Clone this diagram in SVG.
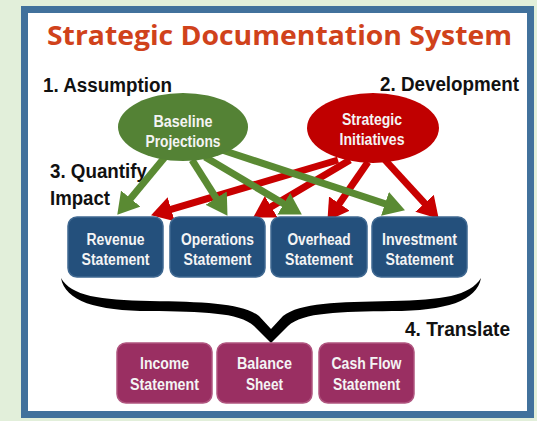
<svg xmlns="http://www.w3.org/2000/svg" width="537" height="421" viewBox="0 0 537 421">
<defs>
<style>
.lbl{font-family:"Liberation Sans",Arial,sans-serif;font-weight:bold;font-size:20px;fill:#111}
.bx{font-family:"Liberation Sans",Arial,sans-serif;font-weight:bold;font-size:16px;fill:#f4f4f4;text-anchor:middle}
.blue rect{fill:#24507c;stroke:#3f6891;stroke-width:1.5}
.purple rect{fill:#9a2f62;stroke:#b0557f;stroke-width:1.5}
.g{stroke:#5a8a33;stroke-width:7;fill:none}
.r{stroke:#c80000;stroke-width:7;fill:none}
</style>
<marker id="hg" viewBox="0 0 21 25" markerWidth="21" markerHeight="25" refX="2" refY="12.5" orient="auto" markerUnits="userSpaceOnUse"><path d="M0,0 L21,12.5 L0,25 Z" fill="#5a8a33"/></marker>
<marker id="hr" viewBox="0 0 21 25" markerWidth="21" markerHeight="25" refX="2" refY="12.5" orient="auto" markerUnits="userSpaceOnUse"><path d="M0,0 L21,12.5 L0,25 Z" fill="#c80000"/></marker>
</defs>
<rect x="0" y="0" width="537" height="421" fill="#e2efda"/>
<rect x="24.5" y="9.5" width="506" height="405" fill="#ffffff" stroke="#41719c" stroke-width="7"/>
<text x="47" y="45" font-family="'Open Sans','Noto Sans',sans-serif" font-weight="bold" font-size="26" fill="#d0421b" textLength="465" lengthAdjust="spacingAndGlyphs">Strategic Documentation System</text>
<text class="lbl" x="43" y="92" textLength="129" lengthAdjust="spacingAndGlyphs">1. Assumption</text>
<text class="lbl" x="380" y="91" textLength="139" lengthAdjust="spacingAndGlyphs">2. Development</text>
<text class="lbl" x="50" y="178" textLength="97" lengthAdjust="spacingAndGlyphs">3. Quantify</text>
<text class="lbl" x="50" y="205" textLength="60" lengthAdjust="spacingAndGlyphs">Impact</text>
<text class="lbl" x="405" y="336" textLength="105" lengthAdjust="spacingAndGlyphs">4. Translate</text>
<g id="connectors">
<line class="r" x1="338" y1="160" x2="169.3" y2="209.9" marker-end="url(#hr)"/>
<line class="r" x1="350" y1="160" x2="269.5" y2="207.8" marker-end="url(#hr)"/>
<line class="r" x1="368" y1="162" x2="338.2" y2="205.2" marker-end="url(#hr)"/>
<line class="r" x1="385" y1="160" x2="425.9" y2="204.7" marker-end="url(#hr)"/>
<line class="g" x1="165" y1="157" x2="129.4" y2="200.1" marker-end="url(#hg)"/>
<line class="g" x1="192" y1="160" x2="217.3" y2="199.8" marker-end="url(#hg)"/>
<line class="g" x1="205" y1="157" x2="285.5" y2="204.8" marker-end="url(#hg)"/>
<line class="g" x1="222" y1="150" x2="386.9" y2="204.4" marker-end="url(#hg)"/>
<path id="brace" fill="#000" d="M61,278 C71,296 100,300 150,301 C205,302 242,303 259,316 L271,329 L283,316 C300,303 337,302 392,301 C442,300 470,296 481,278 C477,301 446,311 392,311 C340,312 303,312 288,326 L271,343 L254,326 C239,312 202,312 150,311 C96,311 65,301 61,278 Z"/>
</g>
<g id="baseline">
<ellipse cx="183" cy="127" rx="65" ry="34" fill="#548235"/>
<text class="bx" x="183" y="127" fill="#e8f0e0" textLength="59" lengthAdjust="spacingAndGlyphs">Baseline</text>
<text class="bx" x="183" y="147" fill="#e8f0e0" textLength="75" lengthAdjust="spacingAndGlyphs">Projections</text>
</g>
<g id="strategic">
<ellipse cx="373" cy="128" rx="66" ry="35" fill="#c00000"/>
<text class="bx" x="372" y="125" textLength="60" lengthAdjust="spacingAndGlyphs">Strategic</text>
<text class="bx" x="372" y="145" textLength="65" lengthAdjust="spacingAndGlyphs">Initiatives</text>
</g>
<g id="revenue" class="blue">
<rect x="68" y="217" width="95" height="60" rx="9"/>
<text class="bx" x="115.5" y="245" textLength="58" lengthAdjust="spacingAndGlyphs">Revenue</text>
<text class="bx" x="115.5" y="265" textLength="68" lengthAdjust="spacingAndGlyphs">Statement</text>
</g>
<g id="operations" class="blue">
<rect x="170" y="217" width="95" height="60" rx="9"/>
<text class="bx" x="217.5" y="245" textLength="73" lengthAdjust="spacingAndGlyphs">Operations</text>
<text class="bx" x="217.5" y="265" textLength="68" lengthAdjust="spacingAndGlyphs">Statement</text>
</g>
<g id="overhead" class="blue">
<rect x="271" y="217" width="96" height="60" rx="9"/>
<text class="bx" x="319" y="245" textLength="63" lengthAdjust="spacingAndGlyphs">Overhead</text>
<text class="bx" x="319" y="265" textLength="68" lengthAdjust="spacingAndGlyphs">Statement</text>
</g>
<g id="investment" class="blue">
<rect x="372" y="217" width="95" height="60" rx="9"/>
<text class="bx" x="419.5" y="245" textLength="75" lengthAdjust="spacingAndGlyphs">Investment</text>
<text class="bx" x="419.5" y="265" textLength="68" lengthAdjust="spacingAndGlyphs">Statement</text>
</g>
<g id="income" class="purple">
<rect x="117" y="343" width="95" height="60" rx="9"/>
<text class="bx" x="164.5" y="369" textLength="49" lengthAdjust="spacingAndGlyphs">Income</text>
<text class="bx" x="164.5" y="390" textLength="69" lengthAdjust="spacingAndGlyphs">Statement</text>
</g>
<g id="balance" class="purple">
<rect x="217" y="343" width="95" height="60" rx="9"/>
<text class="bx" x="264.5" y="369" textLength="55" lengthAdjust="spacingAndGlyphs">Balance</text>
<text class="bx" x="264.5" y="390" textLength="37" lengthAdjust="spacingAndGlyphs">Sheet</text>
</g>
<g id="cashflow" class="purple">
<rect x="319" y="343" width="95" height="60" rx="9"/>
<text class="bx" x="366.5" y="369" textLength="70" lengthAdjust="spacingAndGlyphs">Cash Flow</text>
<text class="bx" x="366.5" y="390" textLength="67" lengthAdjust="spacingAndGlyphs">Statement</text>
</g>
</svg>
